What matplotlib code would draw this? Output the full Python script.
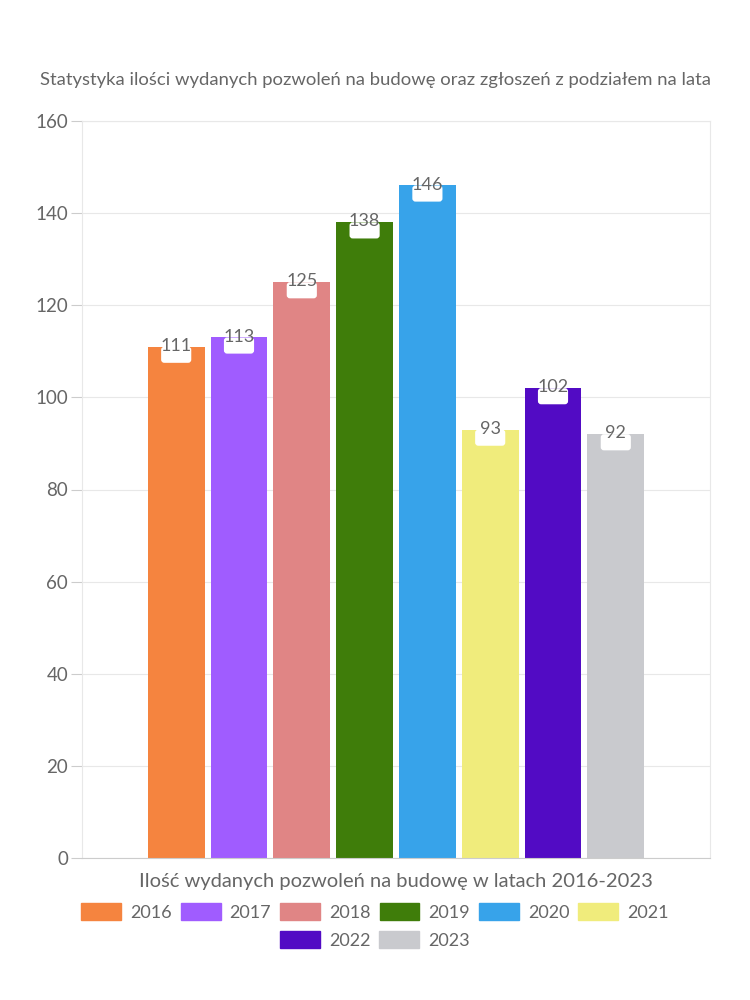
import matplotlib.pyplot as plt
from matplotlib.patches import FancyBboxPatch, Patch

# dane z wykresu
years = ["2016", "2017", "2018", "2019", "2020", "2021", "2022", "2023"]
values = [111, 113, 125, 138, 146, 93, 102, 92]
colors = ["#f5843f", "#a05cff", "#e08585", "#3f7d0a",
          "#37a3ea", "#f0ec7c", "#520bc4", "#c9cace"]
yticks = [0, 20, 40, 60, 80, 100, 120, 140, 160]

title = "Statystyka ilości wydanych pozwoleń na budowę oraz zgłoszeń z podziałem na lata"
xlabel = "Ilość wydanych pozwoleń na budowę w latach 2016-2023"

plt.rcParams["font.family"] = ["Lato", "DejaVu Sans"]
txt = "#666666"

fig = plt.figure(figsize=(7.5, 10), dpi=100)
ax = fig.add_axes([82 / 750, 1 - 858 / 1000, 628 / 750, 737 / 1000])

n = len(values)
step = 0.8 / n
for i, (v, c) in enumerate(zip(values, colors)):
    x = -0.4 + step * (i + 0.5)
    ax.bar(x, v, width=step * 0.905, color=c, zorder=2)
    # biała etykieta z wartością
    ax.add_patch(FancyBboxPatch((x - 0.024, v - 3.5), 0.048, 3.5,
                                boxstyle="round,pad=0,rounding_size=0.005",
                                mutation_aspect=136,
                                fc="white", ec="none", zorder=3))
    ax.text(x, v + 0.2, str(v), ha="center", va="center",
            fontsize=13, color=txt, zorder=4)

ax.set_xlim(-0.5, 0.5)
ax.set_ylim(0, 160)
ax.set_yticks(yticks)
ax.set_xticks([])
ax.tick_params(axis="y", colors="#cccccc", labelcolor=txt, labelsize=13.5,
               length=8, pad=2)
ax.grid(axis="y", color="#e8e8e8", linewidth=0.8, zorder=0)
for s in ["top", "right", "left"]:
    ax.spines[s].set_color("#e8e8e8")
ax.spines["bottom"].set_color("#cccccc")
ax.set_xlabel(xlabel, fontsize=14.5, color=txt, labelpad=11)

fig.text(0.5, 1 - 80 / 1000, title, ha="center", va="center",
         fontsize=13.3, color=txt)

handles = [Patch(color=c, label=y) for y, c in zip(years, colors)]
kw = dict(frameon=False, fontsize=13, handlelength=2.2, handleheight=1.05,
          handletextpad=0.5, columnspacing=0.5, labelcolor=txt)
fig.legend(handles=handles[:6], ncol=6, loc="center",
           bbox_to_anchor=(0.5, 1 - 912 / 1000), **kw)
fig.legend(handles=handles[6:], ncol=2, loc="center",
           bbox_to_anchor=(0.5, 1 - 940 / 1000), **kw)

fig.savefig("out.png", dpi=100)
